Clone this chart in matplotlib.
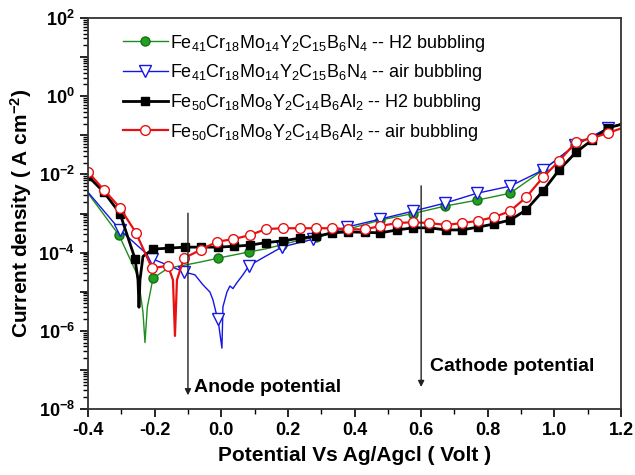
import math
import matplotlib
matplotlib.use('Agg')
import matplotlib.pyplot as plt
from matplotlib.ticker import LogLocator, FuncFormatter, MultipleLocator, NullFormatter

plt.rcParams['font.family'] = ['Liberation Sans', 'DejaVu Sans']
plt.rcParams['mathtext.fontset'] = 'custom'
plt.rcParams['mathtext.rm'] = 'Liberation Sans'
plt.rcParams['mathtext.bf'] = 'Liberation Sans:bold'
plt.rcParams['mathtext.it'] = 'Liberation Sans:italic'

# Fe41 alloy, H2 bubbling (green)
green_v = [-0.40, -0.307, -0.25, -0.235, -0.229, -0.222, -0.205, -0.16, -0.109, -0.06, -0.01,
           0.083, 0.134, 0.183, 0.237, 0.285, 0.377, 0.477, 0.576, 0.672, 0.768, 0.867,
           0.966, 1.062, 1.161, 1.20]
green_i = [3.3e-3, 2.8e-4, 2.5e-5, 3e-6, 5e-7, 4e-6, 2.2e-5, 4e-5, 4.8e-5, 5.8e-5, 7.2e-5,
           1.04e-4, 1.25e-4, 1.6e-4, 2.1e-4, 2.5e-4, 3.9e-4, 6.8e-4, 1.0e-3, 1.55e-3, 2.2e-3, 3.3e-3,
           1.3e-2, 5.5e-2, 0.15, 0.2]
green_marks = [1, 6, 10, 11, 13, 15, 16, 17, 18, 19, 20, 21, 22, 23, 24]

# Fe41 alloy, air bubbling (blue)
blue_v = [-0.40, -0.304, -0.208, -0.112, -0.079, -0.055, -0.034, -0.025, -0.016, -0.010,
          0.002, 0.005, 0.017, 0.026, 0.035, 0.047, 0.065, 0.083, 0.13, 0.183, 0.276,
          0.377, 0.477, 0.576, 0.672, 0.768, 0.867, 0.966, 1.062, 1.161, 1.20]
blue_i = [3.5e-3, 3.8e-4, 7e-5, 3.2e-5, 2.7e-5, 1.5e-5, 9.8e-6, 6.2e-6, 3e-6, 2e-6,
          3.6e-7, 4.1e-6, 9.8e-6, 1.4e-5, 1.2e-5, 1.7e-5, 2.7e-5, 4.6e-5, 7.8e-5, 1.4e-4, 2.2e-4,
          4.5e-4, 7.2e-4, 1.15e-3, 1.85e-3, 3.3e-3, 5e-3, 1.3e-2, 5.6e-2, 0.155, 0.19]
blue_marks = [1, 2, 3, 9, 17, 19, 20, 21, 22, 23, 24, 25, 26, 27, 28, 29]

# Fe50 alloy, H2 bubbling (black)
black_v = [-0.40, -0.352, -0.304, -0.259, -0.250, -0.247, -0.244, -0.235, -0.205, -0.157,
           -0.109, -0.06, -0.01, 0.038, 0.086, 0.134, 0.185, 0.237, 0.285, 0.333, 0.38, 0.43,
           0.477, 0.528, 0.576, 0.624, 0.675, 0.723, 0.771, 0.819, 0.867, 0.915, 0.966,
           1.014, 1.065, 1.113, 1.161, 1.20]
black_i = [9e-3, 3.5e-3, 1.0e-3, 7e-5, 2e-5, 4e-6, 2e-5, 8e-5, 1.23e-4, 1.3e-4,
           1.38e-4, 1.38e-4, 1.38e-4, 1.45e-4, 1.55e-4, 1.8e-4, 2e-4, 2.35e-4, 2.6e-4, 3.2e-4, 3.4e-4, 3.3e-4,
           3.2e-4, 3.8e-4, 4.3e-4, 4.3e-4, 3.8e-4, 3.8e-4, 4.5e-4, 5.4e-4, 6.8e-4, 1.23e-3, 3.8e-3,
           1.3e-2, 3.7e-2, 7.6e-2, 0.155, 0.19]
black_marks = [0, 1, 2, 3] + list(range(8, 37))

# Fe50 alloy, air bubbling (red)
red_v = [-0.40, -0.352, -0.304, -0.256, -0.208, -0.16, -0.145, -0.139, -0.133, -0.112,
         -0.06, -0.013, 0.035, 0.086, 0.134, 0.185, 0.237, 0.285, 0.333, 0.38, 0.43,
         0.477, 0.528, 0.576, 0.624, 0.675, 0.723, 0.771, 0.819, 0.867, 0.915, 0.966,
         1.014, 1.065, 1.113, 1.161, 1.20]
red_i = [1.15e-2, 4e-3, 1.4e-3, 3.2e-4, 4e-5, 4.6e-5, 2e-5, 7.4e-7, 2e-5, 7.2e-5,
         1.2e-4, 1.9e-4, 2.2e-4, 2.8e-4, 4e-4, 4.2e-4, 4.2e-4, 4.2e-4, 4.2e-4, 4e-4, 3.9e-4,
         4.8e-4, 5.7e-4, 6e-4, 5.7e-4, 5.1e-4, 5.7e-4, 6.5e-4, 8.1e-4, 1.15e-3, 2.6e-3, 8.5e-3,
         2.2e-2, 6.8e-2, 8.5e-2, 0.115, 0.15]
red_marks = [0, 1, 2, 3, 4, 5] + list(range(9, 36))

labels = [
    r'Fe$_{41}$Cr$_{18}$Mo$_{14}$Y$_{2}$C$_{15}$B$_{6}$N$_{4}$ -- H2 bubbling',
    r'Fe$_{41}$Cr$_{18}$Mo$_{14}$Y$_{2}$C$_{15}$B$_{6}$N$_{4}$ -- air bubbling',
    r'Fe$_{50}$Cr$_{18}$Mo$_{8}$Y$_{2}$C$_{14}$B$_{6}$Al$_{2}$ -- H2 bubbling',
    r'Fe$_{50}$Cr$_{18}$Mo$_{8}$Y$_{2}$C$_{14}$B$_{6}$Al$_{2}$ -- air bubbling',
]

fig = plt.figure(figsize=(6.35, 4.75), dpi=100)
ax = fig.add_axes([0.1386, 0.139, 0.8394, 0.823])

ax.plot(green_v, green_i, color='#1e8c1e', lw=1.0, marker='o', markersize=6.5,
        markerfacecolor='#22a022', markeredgecolor='#157015', markevery=green_marks, label=labels[0])
ax.plot(blue_v, blue_i, color='#1515e6', lw=1.0, marker='v', markersize=8,
        markerfacecolor='white', markeredgecolor='#1515e6', markevery=blue_marks, label=labels[1])
ax.plot(black_v, black_i, color='black', lw=2.0, marker='s', markersize=6,
        markerfacecolor='black', markevery=black_marks, label=labels[2])
ax.plot(red_v, red_i, color='#e81010', lw=1.6, marker='o', markersize=7,
        markerfacecolor='white', markeredgecolor='#e81010', markevery=red_marks, label=labels[3])

ax.set_yscale('log')
ax.set_xlim(-0.4, 1.2)
ax.set_ylim(1e-8, 1e2)

ax.xaxis.set_major_locator(MultipleLocator(0.2))
ax.xaxis.set_minor_locator(MultipleLocator(0.1))
ax.xaxis.set_major_formatter(FuncFormatter(lambda v, p: '%.1f' % v))
ax.yaxis.set_major_locator(LogLocator(base=10, numticks=20))
ax.yaxis.set_minor_locator(LogLocator(base=10, subs=range(2, 10), numticks=20))
ax.yaxis.set_minor_formatter(NullFormatter())


def ylab(v, p):
    e = int(round(math.log10(v)))
    if e % 2:
        return ''
    return r'$\mathbf{10^{%d}}$' % e


ax.yaxis.set_major_formatter(FuncFormatter(ylab))

ax.tick_params(axis='both', which='major', direction='out', length=6, width=1.2,
               labelsize=13, top=False, right=False)
ax.tick_params(axis='both', which='minor', direction='out', length=3.5, width=1.0,
               top=False, right=False)
for lbl in ax.get_xticklabels():
    lbl.set_fontweight('bold')
for s in ax.spines.values():
    s.set_linewidth(1.3)
    s.set_color('#333333')

ax.set_xlabel('Potential Vs Ag/Agcl ( Volt )', fontsize=15, fontweight='bold', labelpad=5)
ax.set_ylabel(r'Current density ( A cm$^{\mathbf{-2}}$)', fontsize=15, fontweight='bold', labelpad=3)

# arrows for anode / cathode potential
ax.annotate('', xy=(-0.1, 1.9e-8), xytext=(-0.1, 1.2e-3),
            arrowprops=dict(arrowstyle='-|>', color='#222222', lw=1.0, mutation_scale=9))
ax.text(-0.082, 3.5e-8, 'Anode potential', fontsize=14, fontweight='bold', va='center', ha='left')
ax.annotate('', xy=(0.6, 3.1e-8), xytext=(0.6, 6e-3),
            arrowprops=dict(arrowstyle='-|>', color='#222222', lw=1.0, mutation_scale=9))
ax.text(0.627, 1.2e-7, 'Cathode potential', fontsize=14, fontweight='bold', va='center', ha='left')

ax.legend(loc='upper left', frameon=False, fontsize=13, handlelength=2.5, handletextpad=0.1,
          labelspacing=0.48, borderaxespad=0.2, bbox_to_anchor=(0.045, 0.99))

fig.savefig('out.png', dpi=100)
